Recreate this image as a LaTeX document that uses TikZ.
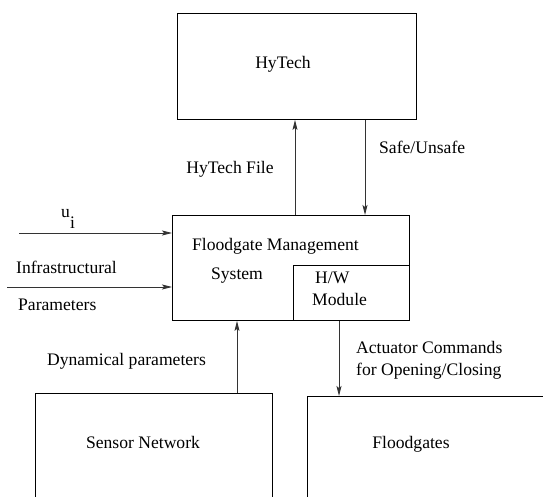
\documentclass[tikz,border=0pt]{standalone}
\usepackage{fontspec}
\setmainfont{Liberation Serif}
\usetikzlibrary{arrows.meta}
\begin{document}
\begin{tikzpicture}[x=1pt,y=-1pt,
  box/.style={draw=black,line width=0.9pt,inner sep=0pt,anchor=north west},
  arr/.style={draw=black!80,line width=0.9pt,-{Stealth[length=10pt,width=5pt,inset=2pt]}},
  lbl/.style={inner sep=0pt,yshift=-3.5pt,font=\fontsize{17.6pt}{20pt}\selectfont}]
\useasboundingbox (0,0) rectangle (543,497);
\clip (0,0) rectangle (543,497);
% boxes
\node[box,minimum width=239pt,minimum height=106pt] (hytech) at (177,13) {};
\node[box,minimum width=237pt,minimum height=105pt] (main) at (172,215) {};
\node[box,minimum width=116pt,minimum height=55pt] (hw) at (293,265) {};
\node[box,minimum width=237pt,minimum height=140pt] (sensor) at (35,393) {};
\node[box,minimum width=260pt,minimum height=140pt] (gates) at (307,396) {};
% texts
\node[lbl,anchor=mid] (thy) at (283,63) {HyTech};
\node[lbl,anchor=mid] (thf) at (230,168) {HyTech File};
\node[lbl,anchor=mid west] (tsafe) at (379,148) {Safe/Unsafe};
\node[lbl,anchor=mid] (tfm) at (275.5,245) {Floodgate Management};
\node[lbl,anchor=mid] (tsys) at (237,274) {System};
\node[lbl,anchor=mid west] (thw) at (315,278) {H/W};
\node[lbl,anchor=mid west] (tmod) at (312,300) {Module};
\node[lbl,anchor=base west] (tui) at (61,214) {u\raisebox{-11pt}{i}};
\node[lbl,anchor=mid west] (tinf) at (16,268) {Infrastructural};
\node[lbl,anchor=mid west] (tpar) at (18,305) {Parameters};
\node[lbl,anchor=mid] (tdyn) at (126.5,360) {Dynamical parameters};
\node[lbl,anchor=mid west] (tact) at (356,348) {Actuator Commands};
\node[lbl,anchor=mid west] (topen) at (356,370) {for Opening/Closing};
\node[lbl,anchor=mid] (tsn) at (143,443) {Sensor Network};
\node[lbl,anchor=mid] (tfg) at (411,443) {Floodgates};
% connector endpoints
\coordinate (ui) at (19,233);
\coordinate (inf) at (7,287);
\coordinate (hfs) at ([xshift=123pt]main.north west);
\coordinate (sfs) at ([xshift=188pt]hytech.south west);
\coordinate (dys) at ([xshift=202pt]sensor.north west);
\coordinate (acs) at ([xshift=32pt]gates.north west);
% connectors
\draw[arr] (hfs) -- (hfs |- hytech.south);
\draw[arr] (sfs) -- (sfs |- main.north);
\draw[arr] (ui) -- (ui -| main.west);
\draw[arr] (inf) -- (inf -| main.west);
\draw[arr] (dys) -- (dys |- main.south);
\draw[arr] (acs |- main.south) -- (acs);
\end{tikzpicture}
\end{document}
